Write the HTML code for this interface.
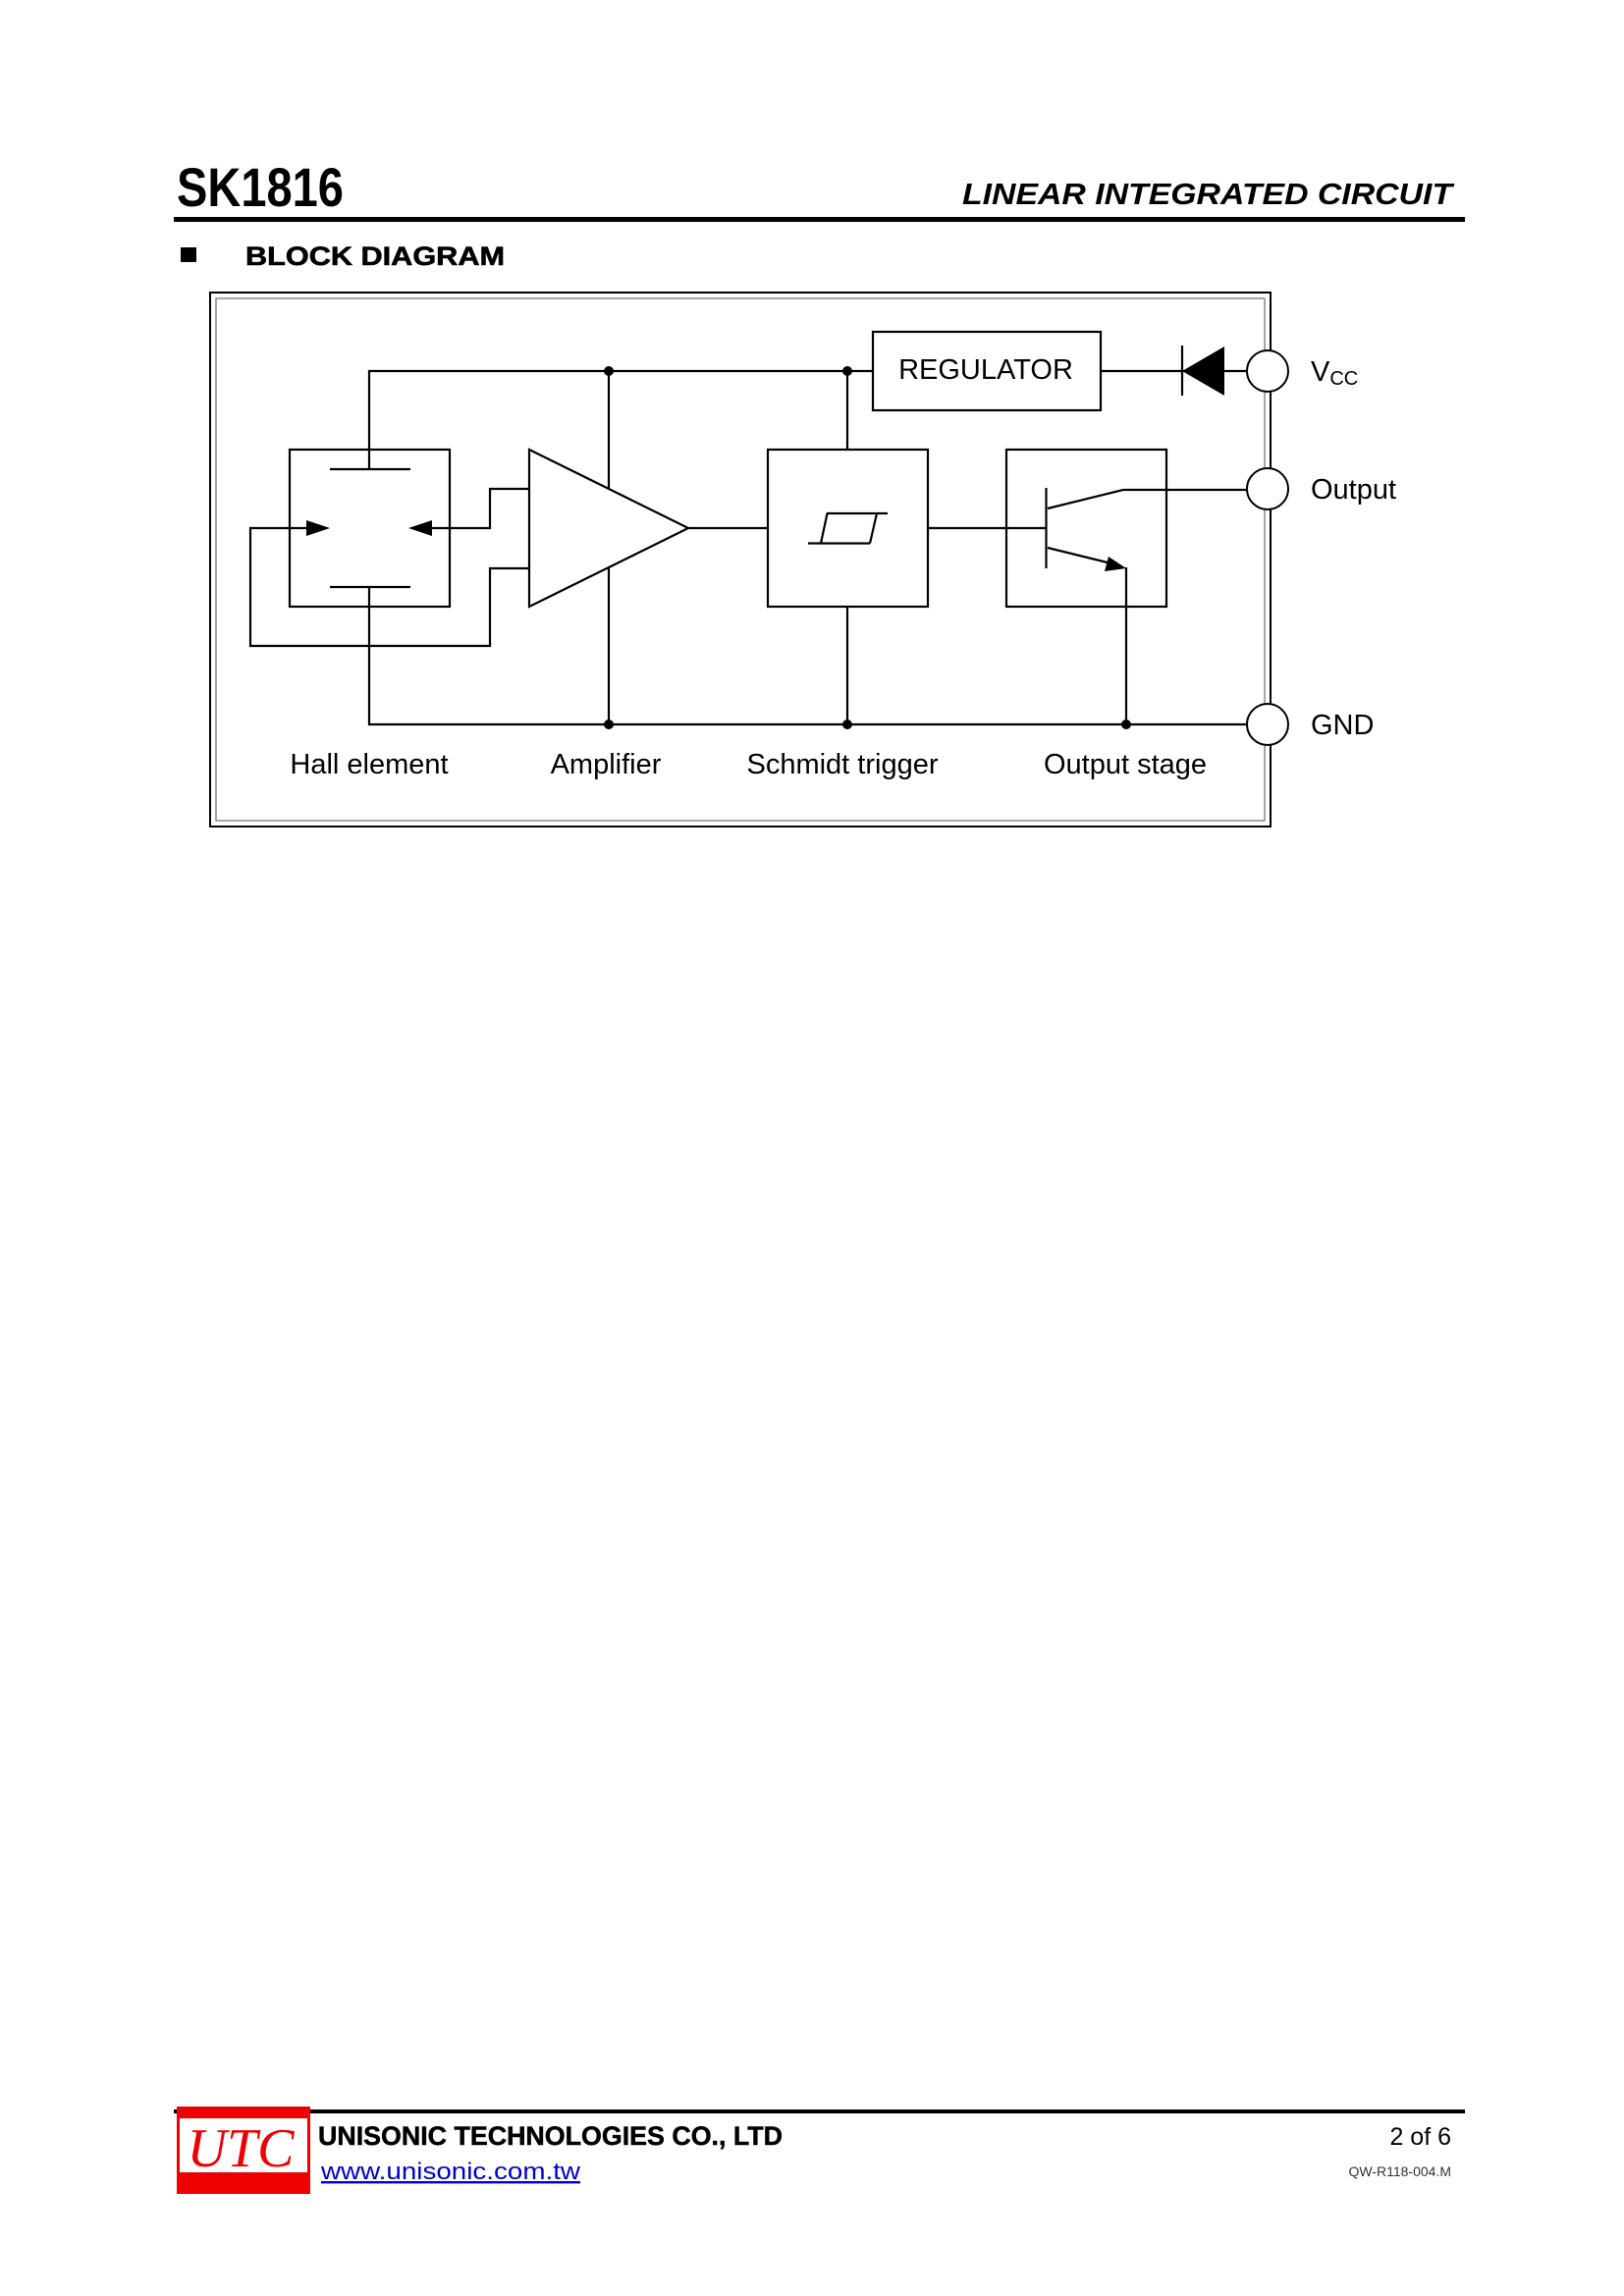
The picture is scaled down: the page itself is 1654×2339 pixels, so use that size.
<!DOCTYPE html>
<html><head><meta charset="utf-8"><style>
html,body{margin:0;padding:0;background:#fff}
svg{display:block}
text{font-family:"Liberation Sans",Arial,sans-serif}
</style></head><body>
<svg width="1654" height="2339" viewBox="0 0 1654 2339" xmlns="http://www.w3.org/2000/svg">
<rect width="1654" height="2339" fill="#fff"/>
<!-- header -->
<text x="180" y="210" font-size="56" font-weight="bold" transform="translate(180 0) scale(0.84 1) translate(-180 0)">SK1816</text>
<text x="980" y="208" font-size="31" font-weight="bold" font-style="italic" textLength="499" lengthAdjust="spacingAndGlyphs">LINEAR INTEGRATED CIRCUIT</text>
<rect x="177" y="221" width="1315" height="5" fill="#000"/>
<rect x="184" y="252" width="16" height="15" fill="#000"/>
<text x="250" y="270" font-size="27" font-weight="bold" textLength="264" lengthAdjust="spacingAndGlyphs" stroke="#000" stroke-width="0.6">BLOCK DIAGRAM</text>

<!-- outer frame -->
<rect x="214" y="298" width="1080" height="544" fill="none" stroke="#000" stroke-width="2"/>
<rect x="220" y="304" width="1068" height="532" fill="none" stroke="#888" stroke-width="1.5"/>

<g stroke="#000" stroke-width="2.2" fill="none">
<polyline points="376,478 376,378 888,378"/>
<line x1="1121" y1="378" x2="1270" y2="378"/>
<rect x="295" y="458" width="163" height="160"/>
<line x1="336" y1="478" x2="418" y2="478"/>
<line x1="336" y1="598" x2="418" y2="598"/>
<polyline points="376,598 376,738 1270,738"/>
<polygon points="539,458 701,538 539,618"/>
<line x1="620" y1="378" x2="620" y2="498"/>
<line x1="620" y1="578" x2="620" y2="738"/>
<polyline points="539,498 499,498 499,538 440,538"/>
<polyline points="539,579 499,579 499,658 255,658 255,538 312,538"/>
<line x1="701" y1="538" x2="782" y2="538"/>
<rect x="889" y="338" width="232" height="80"/>
<rect x="782" y="458" width="163" height="160"/>
<line x1="863" y1="378" x2="863" y2="458"/>
<line x1="863" y1="618" x2="863" y2="738"/>
<line x1="842" y1="523" x2="904" y2="523"/>
<line x1="823" y1="553.5" x2="886" y2="553.5"/>
<line x1="842.5" y1="523" x2="836" y2="553.5"/>
<line x1="893" y1="523" x2="886" y2="553.5"/>
<line x1="945" y1="538" x2="1065" y2="538"/>
<rect x="1025" y="458" width="163" height="160"/>
<line x1="1065.5" y1="497" x2="1065.5" y2="579"/>
<polyline points="1067,518 1144,499 1270,499"/>
<line x1="1067" y1="558" x2="1140" y2="576"/>
<line x1="1147" y1="578" x2="1147" y2="738"/>
<line x1="1204" y1="352" x2="1204" y2="403"/>
</g>
<polygon points="416,538 440,530 440,546" fill="#000"/>
<polygon points="336,538 312,530 312,546" fill="#000"/>
<polygon points="1147,579 1125,582 1129,567" fill="#000"/>
<polygon points="1204,378 1247,353 1247,403" fill="#000"/>
<g fill="#000">
<circle cx="620" cy="378" r="5"/><circle cx="863" cy="378" r="5"/>
<circle cx="620" cy="738" r="5"/><circle cx="863" cy="738" r="5"/><circle cx="1147" cy="738" r="5"/>
</g>
<g fill="#fff" stroke="#000" stroke-width="2">
<circle cx="1291" cy="378" r="21"/>
<circle cx="1291" cy="498" r="21"/>
<circle cx="1291" cy="738" r="21"/>
</g>
<g font-size="29">
<text x="1004" y="386" text-anchor="middle">REGULATOR</text>
<text x="1335" y="388">V<tspan font-size="20" dy="4">CC</tspan></text>
<text x="1335" y="508">Output</text>
<text x="1335" y="748">GND</text>
<text x="376" y="788" text-anchor="middle">Hall element</text>
<text x="617" y="788" text-anchor="middle">Amplifier</text>
<text x="858" y="788" text-anchor="middle">Schmidt trigger</text>
<text x="1146" y="788" text-anchor="middle">Output stage</text>
</g>

<!-- footer -->
<rect x="177" y="2149" width="1315" height="4" fill="#000"/>
<rect x="180" y="2146" width="136" height="89" fill="#e00"/>
<rect x="183" y="2158" width="130" height="55" fill="#fff"/>
<text x="245" y="2207" font-size="56" font-style="italic" fill="#e00" text-anchor="middle" style="font-family:'Liberation Serif','Times New Roman',serif">UTC</text>
<text x="324" y="2185" font-size="27" font-weight="bold" textLength="473" lengthAdjust="spacingAndGlyphs" stroke="#000" stroke-width="0.5">UNISONIC TECHNOLOGIES CO., LTD</text>
<text x="327" y="2220" font-size="24" fill="#00c" text-decoration="underline" textLength="264" lengthAdjust="spacingAndGlyphs">www.unisonic.com.tw</text>
<text x="1478" y="2185" font-size="25" text-anchor="end">2 of 6</text>
<text x="1478" y="2217" font-size="14" text-anchor="end" fill="#333">QW-R118-004.M</text>
</svg>
</body></html>
